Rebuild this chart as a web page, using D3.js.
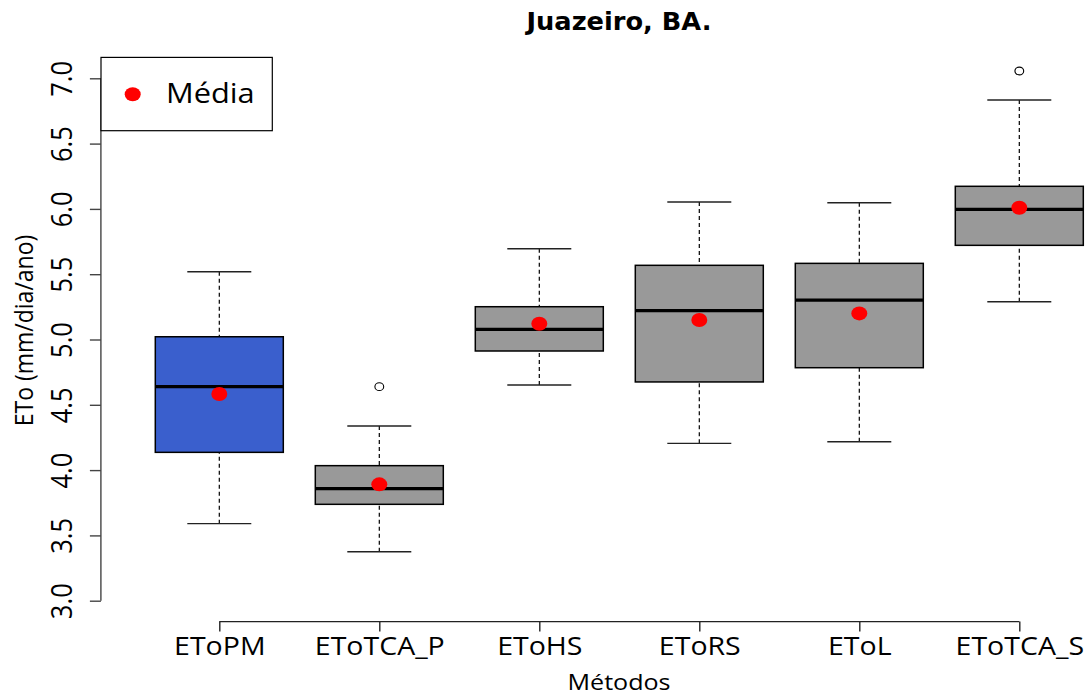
<!DOCTYPE html>
<html>
<head>
<meta charset="utf-8">
<script src="https://cdn.jsdelivr.net/npm/d3@7"></script>
<style>
  html, body { margin: 0; padding: 0; background: #ffffff; }
  svg { display: block; }
</style>
</head>
<body>
<svg id="chart" width="1089" height="697"></svg>
<script>
// ---- data ----
const categories  = ["EToPM", "EToTCA_P", "EToHS", "EToRS", "EToL", "EToTCA_S"];
const whiskerLow  = [3.590, 3.375, 4.652, 4.205, 4.217, 5.289];
const q1          = [4.136, 3.738, 4.912, 4.675, 4.784, 5.721];
const medians     = [4.639, 3.858, 5.078, 5.221, 5.302, 5.997];
const q3          = [5.021, 4.034, 5.251, 5.568, 5.583, 6.173];
const whiskerHigh = [5.519, 4.338, 5.695, 6.053, 6.047, 6.834];
const means       = [4.583, 3.891, 5.121, 5.149, 5.200, 6.009];
const outliers    = [[], [4.639], [], [], [], [7.056]];
const fills       = ["#3A5FCD", "#999999", "#999999", "#999999", "#999999", "#999999"];
const yTicks      = [3.0, 3.5, 4.0, 4.5, 5.0, 5.5, 6.0, 6.5, 7.0];
const titleText   = "Juazeiro, BA.";
const xLabel      = "Métodos";
const yLabel      = "ETo (mm/dia/ano)";
const legendLabel = "Média";

// ---- layout ----
const SX = 1.14; // horizontal stretch of the reference image
const svg = d3.select("#chart");
const x = d3.scaleLinear().domain([0.26, 6.74]).range([100.9, 1137.7]);
const y = d3.scaleLinear().domain([2.84, 7.16]).range([621.6, 57.4]);
const font = "'Open Sans', 'Noto Sans', sans-serif";

const rows = categories.map((c, i) => ({
  c, i: i + 1, lo: whiskerLow[i], q1: q1[i], med: medians[i], q3: q3[i],
  hi: whiskerHigh[i], mean: means[i], out: outliers[i], fill: fills[i]
}));

const g = svg.append("g");

// whiskers (dashed)
g.selectAll(".wlo").data(rows).join("line")
  .attr("x1", d => x(d.i)).attr("x2", d => x(d.i))
  .attr("y1", d => y(d.lo)).attr("y2", d => y(d.q1))
  .attr("stroke", "#000").attr("stroke-width", 1.2).attr("stroke-dasharray", "4,3");
g.selectAll(".whi").data(rows).join("line")
  .attr("x1", d => x(d.i)).attr("x2", d => x(d.i))
  .attr("y1", d => y(d.hi)).attr("y2", d => y(d.q3))
  .attr("stroke", "#000").attr("stroke-width", 1.2).attr("stroke-dasharray", "4,3");
// caps
[ "lo", "hi" ].forEach(k => {
  g.selectAll(".cap" + k).data(rows).join("line")
    .attr("x1", d => x(d.i - 0.2)).attr("x2", d => x(d.i + 0.2))
    .attr("y1", d => y(d[k])).attr("y2", d => y(d[k]))
    .attr("stroke", "#222").attr("stroke-width", 1.4);
});
// boxes
g.selectAll(".box").data(rows).join("rect")
  .attr("x", d => x(d.i - 0.4)).attr("width", d => x(d.i + 0.4) - x(d.i - 0.4))
  .attr("y", d => y(d.q3)).attr("height", d => y(d.q1) - y(d.q3))
  .attr("fill", d => d.fill).attr("stroke", "#000").attr("stroke-width", 1.5);
// medians
g.selectAll(".med").data(rows).join("line")
  .attr("x1", d => x(d.i - 0.4)).attr("x2", d => x(d.i + 0.4))
  .attr("y1", d => y(d.med)).attr("y2", d => y(d.med))
  .attr("stroke", "#000").attr("stroke-width", 3.2);
// outliers
const outPts = rows.flatMap(d => d.out.map(v => ({ i: d.i, v })));
g.selectAll(".out").data(outPts).join("ellipse")
  .attr("cx", d => x(d.i)).attr("cy", d => y(d.v))
  .attr("rx", 4.4).attr("ry", 3.9)
  .attr("fill", "none").attr("stroke", "#000").attr("stroke-width", 1.1);
// means
g.selectAll(".mean").data(rows).join("ellipse")
  .attr("cx", d => x(d.i)).attr("cy", d => y(d.mean))
  .attr("rx", 8).attr("ry", 7).attr("fill", "#ff0000");

// ---- y axis ----
const yAxis = svg.append("g").attr("transform", `translate(${x(0.26)},0)`)
  .call(d3.axisLeft(y).tickValues(yTicks).tickSize(11).tickFormat(d3.format(".1f")));
yAxis.select(".domain").remove();
yAxis.append("line")
  .attr("x1", 0).attr("x2", 0).attr("y1", y(yTicks[0])).attr("y2", y(yTicks[yTicks.length - 1]))
  .attr("stroke", "#444").attr("stroke-width", 1.4);
yAxis.selectAll(".tick line").attr("stroke", "#444").attr("stroke-width", 1.4);
yAxis.selectAll(".tick text")
  .attr("x", null).attr("dy", null).attr("y", null)
  .attr("transform", `translate(-29,0) scale(${SX},1) rotate(-90)`)
  .attr("text-anchor", "middle")
  .attr("font-family", font).attr("font-size", 25.5).attr("fill", "#000");

// ---- x axis ----
const xAxis = svg.append("g").attr("transform", `translate(0,${y(2.84)})`)
  .call(d3.axisBottom(x).tickValues(d3.range(1, categories.length + 1)).tickSize(10)
    .tickFormat(i => categories[i - 1]));
xAxis.select(".domain").remove();
xAxis.append("line")
  .attr("x1", x(1)).attr("x2", x(categories.length)).attr("y1", 0).attr("y2", 0)
  .attr("stroke", "#222").attr("stroke-width", 1.4);
xAxis.selectAll(".tick line").attr("stroke", "#222").attr("stroke-width", 1.4);
xAxis.selectAll(".tick text")
  .attr("y", null).attr("dy", null)
  .attr("transform", `translate(0,33.4) scale(${SX},1)`)
  .attr("text-anchor", "middle")
  .attr("font-family", font).attr("font-size", 25).attr("fill", "#000");

// ---- titles ----
svg.append("text")
  .attr("transform", `translate(619,30) scale(1.07,1)`)
  .attr("text-anchor", "middle")
  .attr("font-family", "'DejaVu Sans', Verdana, sans-serif").attr("font-weight", "bold")
  .attr("font-size", 24).text(titleText);
svg.append("text")
  .attr("transform", `translate(619,690) scale(${SX},1)`)
  .attr("text-anchor", "middle")
  .attr("font-family", font).attr("font-size", 22).text(xLabel);
svg.append("text")
  .attr("transform", `translate(33,330.5) scale(${SX},1) rotate(-90)`)
  .attr("text-anchor", "middle")
  .attr("font-family", font).attr("font-size", 23).text(yLabel);

// ---- legend ----
const leg = svg.append("g");
leg.append("rect").attr("x", 101).attr("y", 57.4).attr("width", 171.3).attr("height", 73.3)
  .attr("fill", "#fff").attr("stroke", "#000").attr("stroke-width", 1.2);
leg.append("ellipse").attr("cx", 132.7).attr("cy", 94.3).attr("rx", 8).attr("ry", 7).attr("fill", "#ff0000");
leg.append("text").attr("transform", `translate(166,103.3) scale(${SX},1)`)
  .attr("font-family", font).attr("font-size", 27).text(legendLabel);
</script>
</body>
</html>
